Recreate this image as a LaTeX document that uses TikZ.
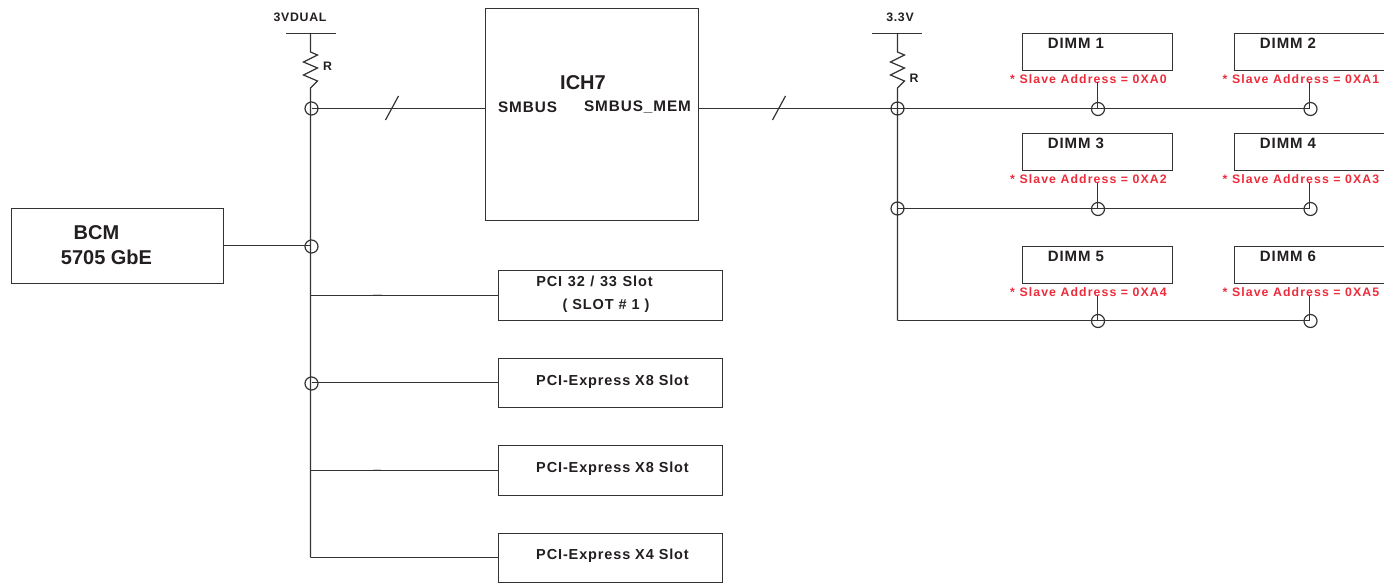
\documentclass[tikz,border=0pt]{standalone}
\usepackage{fontspec}
\setmainfont{Liberation Sans}
\newfontfamily\spaced[LetterSpace=6]{Liberation Sans}
\newfontfamily\spacedwide[LetterSpace=9]{Liberation Sans}
\definecolor{ink}{HTML}{231F20}
\definecolor{slave}{HTML}{EE2B3B}
\definecolor{wire}{HTML}{333333}
\tikzset{
  wireline/.style={draw=wire,line width=1.2pt},
  boxnode/.style={draw=wire,line width=1.2pt,fill=white,inner sep=0pt,outer sep=0pt,anchor=north west},
  junction/.style={circle,draw=wire,line width=1.2pt,minimum size=13pt,inner sep=0pt,outer sep=0pt},
  lab/.style={text=ink,font=\bfseries,inner sep=0pt,anchor=center},
  smalllab/.style={text=ink,font=\spaced\fontsize{12.3}{14}\selectfont\bfseries,inner sep=0pt,anchor=center},
  slotlab/.style={text=ink,font=\spaced\fontsize{14.5}{16}\selectfont\bfseries,inner sep=0pt,anchor=center},
  smblab/.style={text=ink,font=\spaced\fontsize{15.3}{17}\selectfont\bfseries,inner sep=0pt,anchor=center},
  addr/.style={text=slave,font=\spacedwide\fontsize{12.3}{14}\selectfont\bfseries,inner sep=0pt,anchor=center},
  dimmlab/.style={text=ink,font=\spaced\fontsize{15}{17}\selectfont\bfseries,inner sep=0pt,anchor=center},
  tickdark/.style={draw=wire,line width=1.8pt},
  tickfaint/.style={draw=black!18,line width=1pt}
}
\begin{document}
\begin{tikzpicture}[x=1pt,y=-1pt]
\useasboundingbox (0,0) rectangle (1384,583);
% main boxes
\node[boxnode,minimum width=213pt,minimum height=212pt] (ich) at (485.5,8.5) {};
\node[boxnode,minimum width=212pt,minimum height=75pt] (bcm) at (11.5,208.5) {};
\node[boxnode,minimum width=224pt,minimum height=50pt] (s1) at (498.5,270.5) {};
\node[boxnode,minimum width=224pt,minimum height=49pt] (s2) at (498.5,358.5) {};
\node[boxnode,minimum width=224pt,minimum height=50pt] (s3) at (498.5,445.5) {};
\node[boxnode,minimum width=224pt,minimum height=49pt] (s4) at (498.5,533.5) {};
% text in main boxes
\node[lab,font=\fontsize{20}{22}\selectfont\bfseries] (tich) at (583,83) {ICH7};
\node[smblab] (tsm) at (527.5,107) {SMBUS};
\node[smblab] (tmem) at (637.5,107) {SMBUS\_MEM};
\node[lab,font=\fontsize{20}{22}\selectfont\bfseries] (tb1) at (96.5,233) {BCM};
\node[lab,font=\fontsize{20}{22}\selectfont\bfseries] (tb2) at (106.5,257) {5705 GbE};
\node[slotlab] (ts1) at (594.5,281.5) {\spaceskip=5.6pt PCI 32 / 33 Slot};
\node[slotlab] (ts1b) at (606,306) {( SLOT \# 1 )};
\node[slotlab] (ts2) at (612.5,382) {PCI-Express X8 Slot};
\node[slotlab] (ts3) at (612.5,469) {PCI-Express X8 Slot};
\node[slotlab] (ts4) at (612.5,556) {PCI-Express X4 Slot};
% power rails
\coordinate (p1l) at (286,33.5); \coordinate (p1r) at (336,33.5); \coordinate (p1) at (310.5,33.5);
\coordinate (p2l) at (872,33.5); \coordinate (p2r) at (922,33.5); \coordinate (p2) at (897.5,33.5);
\draw[wireline] (p1l) -- (p1r);
\draw[wireline] (p2l) -- (p2r);
\node[smalllab] (v1) at (300,17) {3VDUAL};
\node[smalllab] (v2) at (900,17) {3.3V};
\node[smalllab] (r1) at (327.5,66.5) {R};
\node[smalllab] (r2) at (914,78.5) {R};
% junctions
\node[junction] (j1) at (311.5,108.5) {};
\node[junction] (j2) at (311.5,246.5) {};
\node[junction] (j3) at (311.5,383.5) {};
\node[junction] (j4) at (897.5,108.5) {};
\node[junction] (j5) at (897.5,208.5) {};
\coordinate (c245) at (310.5,245.5);
\coordinate (c295) at (310.5,295.5);
\coordinate (c383) at (311.5,382.5);
\coordinate (c470) at (310.5,470.5);
\coordinate (c557) at (310.5,557.5);
\coordinate (c320) at (897.5,320.5);
% ticks on slot wires (faint ones lie just above the wire)
\coordinate (t1a) at (373,294.5); \coordinate (t1b) at (382,294.5);
\coordinate (t3a) at (373,469.5); \coordinate (t3b) at (381,469.5);
\draw[tickfaint] (t1a) -- (t1b); \draw[tickfaint] (t3a) -- (t3b);
% vertical rails with resistors
\draw[wireline,line join=miter] (p1) -- (310.5,52) -- (317.5,55) -- (303.5,62) -- (317.5,68) -- (303.5,75) -- (317.5,81) -- (310.5,88) -- (c557);
\draw[wireline,line join=miter] (p2) -- (897.5,52) -- (904.5,55) -- (890.5,62) -- (904.5,68) -- (890.5,75) -- (904.5,81) -- (897.5,88) -- (c320);
% horizontal connectors
\draw[wireline] (j1.center) -- (ich.west |- j1);
\draw[wireline] (ich.east |- j4) -- (j4.center);
\draw[wireline] (bcm.east |- c245) -- (c245);
\draw[wireline] (c295) -- (s1.west |- c295);
\draw[wireline] (c383) -- (s2.west |- c383);
\draw[wireline] (c470) -- (s3.west |- c470);
\draw[wireline] (c557) -- (s4.west |- c557);
% bus slashes
\coordinate (sa1) at (385.5,120); \coordinate (sa2) at (398.5,96);
\coordinate (sb1) at (772.5,120); \coordinate (sb2) at (785.5,96);
\draw[wireline] (sa1) -- (sa2);
\draw[wireline] (sb1) -- (sb2);
\coordinate (t2a) at (373,382.5); \coordinate (t2b) at (381,382.5);
\coordinate (t4a) at (373,557.5); \coordinate (t4b) at (381,557.5);
\draw[tickdark] (t2a) -- (t2b); \draw[tickdark] (t4a) -- (t4b);
% DIMM rows
\foreach \n/\m/\boxy/\wy/\la/\lb/\aa/\ab in {a/b/33.5/108.5/DIMM 1/DIMM 2/0XA0/0XA1,c/d/133.5/208.5/DIMM 3/DIMM 4/0XA2/0XA3,e/f/246.5/320.5/DIMM 5/DIMM 6/0XA4/0XA5}{
  \node[boxnode,minimum width=150pt,minimum height=37pt] (box\n) at (1022.5,\boxy) {};
  \node[boxnode,minimum width=160pt,minimum height=37pt] (box\m) at (1234.5,\boxy) {};
  \node[dimmlab] (lab\n) at (1076,\boxy+9.5) {\la};
  \node[dimmlab] (lab\m) at (1288,\boxy+9.5) {\lb};
  \node[addr] (ad\n) at (1088.5,\boxy+45.5) {* Slave Address = \aa};
  \node[addr] (ad\m) at (1301,\boxy+45.5) {* Slave Address = \ab};
  \node[junction] (jn\n) at (1098,\wy+.5) {};
  \node[junction] (jn\m) at (1310.5,\wy+.5) {};
  \coordinate (st\n) at (1097.5,\boxy+49);
  \coordinate (st\m) at (1309.5,\boxy+49);
  \coordinate (en\n) at (1097.5,\wy);
  \coordinate (en\m) at (1309.5,\wy);
  \draw[wireline] (st\n) -- (en\n);
  \draw[wireline] (st\m) -- (en\m);
}
\draw[wireline] (j4.center) -- (enb);
\draw[wireline] (j5.center) -- (end);
\draw[wireline] (c320) -- (enf);
\end{tikzpicture}
\end{document}
